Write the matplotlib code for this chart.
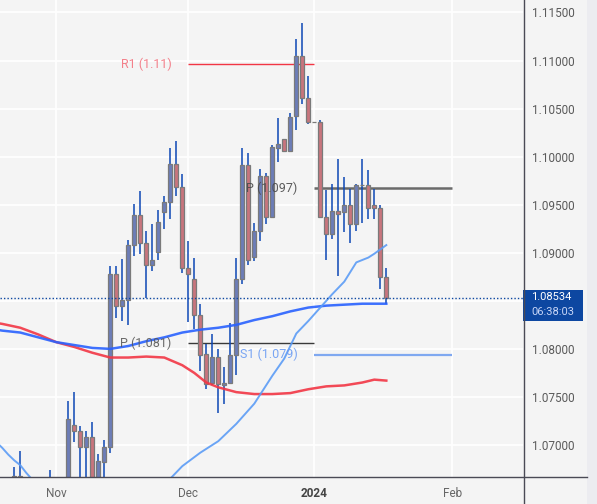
import numpy as np
import pandas as pd
import matplotlib
matplotlib.use('Agg')
import matplotlib.pyplot as plt
from matplotlib.patches import Rectangle
from matplotlib.lines import Line2D

plt.rcParams['font.family'] = ['Roboto', 'DejaVu Sans']

# trading days shown (daily candles, weekdays only)
days = pd.bdate_range('2023-10-19', '2024-02-29')
n_candles = 65

opens = [1.0580, 1.0590, 1.0594, 1.0668, 1.0590, 1.0565, 1.0565, 1.0565, 1.0615,
         1.0575, 1.0569, 1.0620, 1.0721, 1.0715, 1.0698, 1.0708, 1.0662, 1.0682,
         1.0698, 1.0878, 1.0845, 1.0851, 1.0908, 1.0939, 1.0910, 1.0887, 1.0901,
         1.0942, 1.0953, 1.0992, 1.0968, 1.0884, 1.0873, 1.0835, 1.0795, 1.0764,
         1.0792, 1.0762, 1.0764, 1.0794, 1.0873, 1.0991, 1.0896, 1.0923, 1.0980,
         1.0937, 1.1009, 1.1018, 1.1006, 1.1042, 1.1105, 1.1061, 1.1036, 1.1036,
         1.0937, 1.0920, 1.0943, 1.0942, 1.0950, 1.0930, 1.0971, 1.0971, 1.0950,
         1.0947, 1.0875]
highs = [1.0620, 1.0636, 1.0677, 1.0694, 1.0605, 1.0600, 1.0600, 1.0623, 1.0674,
         1.0580, 1.0664, 1.0746, 1.0755, 1.0720, 1.0715, 1.0724, 1.0691, 1.0705,
         1.0886, 1.0886, 1.0894, 1.0913, 1.0951, 1.0964, 1.0923, 1.0930, 1.0945,
         1.0959, 1.1009, 1.1016, 1.0982, 1.0912, 1.0895, 1.0847, 1.0805, 1.0816,
         1.0800, 1.0781, 1.0827, 1.0895, 1.1009, 1.1004, 1.0931, 1.0987, 1.0983,
         1.1012, 1.1040, 1.1018, 1.1045, 1.1122, 1.1139, 1.1084, 1.1036, 1.1038,
         1.0965, 1.0972, 1.0998, 1.0979, 1.0966, 1.0972, 1.0998, 1.0986, 1.0966,
         1.0950, 1.0884]
lows = [1.0560, 1.0575, 1.0576, 1.0588, 1.0545, 1.0520, 1.0535, 1.0560, 1.0570,
        1.0516, 1.0563, 1.0616, 1.0703, 1.0660, 1.0663, 1.0660, 1.0655, 1.0660,
        1.0692, 1.0832, 1.0829, 1.0825, 1.0897, 1.0899, 1.0853, 1.0881, 1.0893,
        1.0925, 1.0935, 1.0959, 1.0879, 1.0828, 1.0821, 1.0777, 1.0758, 1.0762,
        1.0733, 1.0743, 1.0770, 1.0773, 1.0868, 1.0887, 1.0891, 1.0912, 1.0930,
        1.0936, 1.0994, 1.1005, 1.1005, 1.1028, 1.1055, 1.1034, 1.1036, 1.0937,
        1.0892, 1.0914, 1.0876, 1.0922, 1.0910, 1.0923, 1.0931, 1.0935, 1.0935,
        1.0862, 1.0847]
closes = [1.0590, 1.0594, 1.0668, 1.0590, 1.0565, 1.0565, 1.0565, 1.0615, 1.0575,
          1.0569, 1.0620, 1.0727, 1.0715, 1.0698, 1.0708, 1.0664, 1.0683, 1.0698,
          1.0878, 1.0845, 1.0851, 1.0908, 1.0939, 1.0910, 1.0887, 1.0892, 1.0932,
          1.0953, 1.0992, 1.0968, 1.0884, 1.0878, 1.0835, 1.0794, 1.0763, 1.0792,
          1.0763, 1.0764, 1.0794, 1.0873, 1.0991, 1.0893, 1.0923, 1.0980, 1.0937,
          1.1010, 1.1013, 1.1006, 1.1041, 1.1105, 1.1061, 1.1036, 1.1036, 1.0937,
          1.0920, 1.0943, 1.0940, 1.0950, 1.0930, 1.0971, 1.0971, 1.0947, 1.0947,
          1.0875, 1.08534]

# moving averages, read at a few candle indices (index into days)
ma_fast_x = [-1, 0, 1, 2, 3, 4, 5, 7, 11, 15, 19, 23, 26, 28, 30, 33, 36, 39, 42,
             45, 47, 49, 51, 53, 55, 57, 59, 61, 62, 64]
ma_fast = [1.0703, 1.0697, 1.0690, 1.0684, 1.0679, 1.0671, 1.0664, 1.0655, 1.0640,
           1.0628, 1.0620, 1.0625, 1.0645, 1.0665, 1.0678, 1.0692, 1.0704, 1.0722,
           1.0743, 1.0772, 1.0790, 1.0816, 1.0829, 1.0843, 1.0857, 1.0870, 1.0890,
           1.0895, 1.0899, 1.0908]
ma_mid_x = [-1, 0, 3, 6, 9, 12, 15, 18, 21, 24, 27, 30, 33, 36, 39, 42, 45, 48, 51,
            54, 57, 60, 64]
ma_mid = [1.0820, 1.0819, 1.0817, 1.0812, 1.0807, 1.0804, 1.0801, 1.0800, 1.0803,
          1.0808, 1.0812, 1.0817, 1.0820, 1.0822, 1.0825, 1.0830, 1.0834, 1.0839,
          1.0843, 1.0845, 1.0846, 1.0847, 1.0847]
ma_slow_x = [-1, 0, 3, 6, 9, 12, 15, 18, 21, 24, 27, 30, 32, 34, 36, 39, 42, 45, 48,
             51, 54, 57, 60, 62, 64]
ma_slow = [1.0827, 1.0826, 1.0822, 1.0815, 1.0807, 1.0802, 1.0796, 1.0791, 1.0791,
           1.0792, 1.0791, 1.0783, 1.0775, 1.0765, 1.0760, 1.0755, 1.0753, 1.0753,
           1.0754, 1.0758, 1.0761, 1.0762, 1.0765, 1.0768, 1.0767]

# pivot levels: name, value, start day, end day
pivot_labels = ['R1 (1.11)', 'P (1.081)', 'P (1.097)', 'S1 (1.079)']
pivot_values = [1.1096, 1.0806, 1.0967, 1.0794]
pivot_start = ['2023-12-01', '2023-12-01', '2024-01-01', '2024-01-01']
pivot_end = ['2024-01-01', '2024-01-01', '2024-02-01', '2024-02-01']
pivot_colors = ['#f23645', '#3a3a3a', '#6a6a6a', '#7fa8f0']
pivot_text_colors = ['#f3737f', '#5a5a5a', '#4a4a4a', '#6b9cf3']
pivot_widths = [1.0, 1.0, 1.8, 1.6]

last_price = 1.08534
last_time = '06:38:03'

bg = '#f4f4f4'
W, H = 597, 504
fig = plt.figure(figsize=(W / 100, H / 100), dpi=100)
fig.patch.set_facecolor(bg)
ax = fig.add_axes([0, 27 / H, 523 / W, 477 / H])
ax.set_facecolor(bg)

x = np.arange(n_candles)
o = np.array(opens)
c = np.array(closes)
up = c >= o
body_col = np.where(up, '#6c7db8', '#c8757d')

# wicks
ax.vlines(x, lows, highs, color='#0d47b5', lw=1.1, zorder=3)
# bodies
ax.bar(x, np.abs(c - o), bottom=np.minimum(o, c), width=0.7, color=body_col,
       edgecolor='#7a7a7a', linewidth=0.9, zorder=4)

# moving averages
ax.plot(ma_slow_x, ma_slow, color='#f23645', lw=1.8, alpha=0.9, zorder=5)
ax.plot(ma_mid_x, ma_mid, color='#2962ff', lw=1.8, alpha=0.9, zorder=5)
ax.plot(ma_fast_x, ma_fast, color='#5b9cf6', lw=1.4, alpha=0.9, zorder=5)

# pivot lines with labels
day_index = {d.strftime('%Y-%m-%d'): i for i, d in enumerate(days)}
for lab, val, s, e, col, tcol, lw in zip(pivot_labels, pivot_values, pivot_start,
                                         pivot_end, pivot_colors, pivot_text_colors,
                                         pivot_widths):
    xs, xe = day_index[s], day_index[e]
    ax.hlines(val, xs, xe, color=col, lw=lw, zorder=2)
    ax.annotate(lab, xy=(xs, val), xytext=(-12, 0), textcoords='offset points',
                ha='right', va='center', fontsize=9, color=tcol, alpha=0.9, zorder=7)

# last price dotted line
ax.axhline(last_price, color='#0d47a1', lw=1.0, ls=(0, (1, 1.5)), zorder=6)

# axes
ax.set_xlim(-0.38, 86.78)
ax.set_ylim(1.06667, 1.11630)
yt = np.arange(1.070, 1.1151, 0.005)
ax.set_yticks(yt)
ax.set_yticklabels([f'{v:.5f}' for v in yt])
ax.yaxis.tick_right()
ax.tick_params(axis='y', length=0, pad=6.5, labelsize=8.5, labelcolor='#5a5a5a')

month_pos = [i for i in range(1, len(days)) if days[i].month != days[i - 1].month]
month_lab = ['Nov', 'Dec', '2024', 'Feb']
ax.set_xticks(month_pos[:4])
ax.set_xticklabels(month_lab)
ax.tick_params(axis='x', length=0, pad=7, labelsize=8.5, labelcolor='#666666')
for t in ax.get_xticklabels():
    if t.get_text() == '2024':
        t.set_fontweight('bold')
        t.set_color('#444444')

ax.grid(color='white', lw=1.2)
ax.set_axisbelow(True)
for sp in ax.spines.values():
    sp.set_visible(False)

# frame lines and price tag
fig.add_artist(Line2D([523.5 / W, 523.5 / W], [0, 1], color='#4a4a55', lw=1.0))
fig.add_artist(Line2D([0, 587 / W], [(H - 477) / H, (H - 477) / H], color='#4a4a55', lw=1.0))
fig.add_artist(Rectangle((587 / W, 0), 10 / W, 1, color='#ececf0', lw=0))
y_tag = ax.transData.transform((0, last_price))[1] / H
fig.add_artist(Rectangle((523 / W, y_tag - 23 / H), 60 / W, 31 / H, color='#0d47a1', lw=0))
fig.text(531 / W, y_tag + 1 / H, f'{last_price:.5f}', color='white', fontsize=8.0,
         ha='left', va='center')
fig.text(531 / W, y_tag - 14.5 / H, last_time, color='#c8d6f7', fontsize=8.0,
         ha='left', va='center')

fig.savefig('out.png', dpi=100, facecolor=bg)
